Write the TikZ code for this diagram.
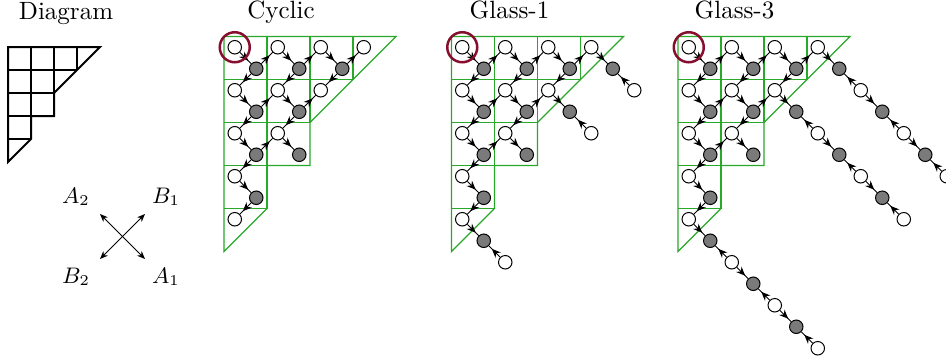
\documentclass[tikz,border=0pt]{standalone}
\usetikzlibrary{arrows.meta,decorations.markings,calc}
\definecolor{gridgreen}{rgb}{0.16,0.66,0.16}
\definecolor{ringred}{rgb}{0.53,0.06,0.18}
\tikzset{
  wn/.style={circle,draw=black,fill=white,inner sep=0pt,minimum size=5.4pt,line width=0.4pt},
  gn/.style={wn,fill=black!52},
  marr/.style={line width=0.4pt,postaction={decorate},
    decoration={markings,mark=at position 0.74 with {\arrow{Stealth[length=3.6pt,width=3pt]}}}},
  gridline/.style={draw=gridgreen,line width=0.45pt},
  diagline/.style={draw=black,line width=0.8pt},
  ringnode/.style={circle,draw=ringred,line width=1pt,inner sep=0pt,minimum size=12pt},
  ttl/.style={anchor=base,inner sep=0pt},
  crossarr/.style={line width=0.4pt,{Stealth[length=3.2pt,width=2.6pt]}-{Stealth[length=3.2pt,width=2.6pt]}},
  lbl/.style={inner sep=0pt,font=\small}
}
\newcommand{\gridshape}[1]{%
  \draw[#1] (0,0) -- (4,0) -- (2,2) -- (2,3) -- (1,3) -- (1,4) -- (0,5) -- cycle;
  \draw[#1] (1,0) -- (1,4) (2,0) -- (2,2) (3,0) -- (3,1)
            (0,1) -- (3,1) (0,2) -- (2,2) (0,3) -- (1,3) (0,4) -- (1,4);
}
\newcommand{\basenodes}[1]{%
  \foreach \r/\c in {1/1,1/2,1/3,1/4,2/1,2/2,2/3,3/1,3/2,4/1,5/1}
    \node[wn] (#1W\r\c) at (\c-0.75,\r-0.75) {};
  \foreach \r/\c in {1/1,1/2,1/3,2/1,2/2,3/1,3/2,4/1}
    \node[gn] (#1G\r\c) at (\c-0.25,\r-0.25) {};
  \foreach \r/\c in {1/1,1/2,1/3,2/1,2/2,3/1,3/2,4/1}
    \draw[marr] (#1W\r\c) -- (#1G\r\c);
  \foreach \a/\b in {11/12,12/13,13/14,21/22,22/23,31/32,11/21,12/22,13/23,21/31,22/32,31/41,41/51}
    \draw[marr] (#1G\a) -- (#1W\b);
  \node[ringnode] (#1R) at (#1W11) {};
}
\newcommand{\glassgrays}[1]{%
  \node[gn] (#1G14) at (3.75,0.75) {};
  \node[gn] (#1G23) at (2.75,1.75) {};
  \node[gn] (#1G51) at (0.75,4.75) {};
  \draw[marr] (#1W14) -- (#1G14);
  \draw[marr] (#1W23) -- (#1G23);
  \draw[marr] (#1W51) -- (#1G51);
}
\newcommand{\tailone}[2]{%
  \node[wn] (#2W1) at ($(#1)+(0.5,0.5)$) {};
  \draw[marr] (#2W1) -- (#1);
}
\newcommand{\tailthree}[2]{%
  \node[wn] (#2W1) at ($(#1)+(0.5,0.5)$) {};
  \node[gn] (#2G1) at ($(#1)+(1,1)$) {};
  \node[wn] (#2W2) at ($(#1)+(1.5,1.5)$) {};
  \node[gn] (#2G2) at ($(#1)+(2,2)$) {};
  \node[wn] (#2W3) at ($(#1)+(2.5,2.5)$) {};
  \draw[marr] (#2W1) -- (#1);
  \draw[marr] (#2W1) -- (#2G1);
  \draw[marr] (#2W2) -- (#2G1);
  \draw[marr] (#2W2) -- (#2G2);
  \draw[marr] (#2W3) -- (#2G2);
}
\begin{document}
\begin{tikzpicture}[x=0.4pt,y=-0.4pt]
  \useasboundingbox (0,0) rectangle (946,360);
  % titles
  \node[ttl] (tD) at (66,19) {Diagram};
  \node[ttl] (tC) at (281,18) {Cyclic};
  \node[ttl] (tG1) at (509.5,18) {Glass-1};
  \node[ttl] (tG3) at (734.5,18) {Glass-3};
  % small diagram
  \begin{scope}[shift={(8,47)},x=9.2pt,y=-9.2pt]
    \gridshape{diagline}
  \end{scope}
  % cross
  \coordinate (x1) at (100,214);
  \coordinate (x2) at (145,259);
  \coordinate (x3) at (145,214);
  \coordinate (x4) at (100,259);
  \draw[crossarr] (x1) -- (x2);
  \draw[crossarr] (x3) -- (x4);
  \node[lbl] (lA2) at (76,197) {$A_2$};
  \node[lbl] (lB1) at (166,197) {$B_1$};
  \node[lbl] (lB2) at (76,277) {$B_2$};
  \node[lbl] (lA1) at (166,277) {$A_1$};
  % Cyclic
  \begin{scope}[shift={(224,36.5)},x=17.2pt,y=-17.2pt]
    \gridshape{gridline}
    \basenodes{C}
  \end{scope}
  % Glass-1
  \begin{scope}[shift={(451.5,36.5)},x=17.2pt,y=-17.2pt]
    \gridshape{gridline}
    \basenodes{P}
    \glassgrays{P}
    \tailone{PG14}{Pa}
    \tailone{PG23}{Pb}
    \tailone{PG51}{Pc}
  \end{scope}
  % Glass-3
  \begin{scope}[shift={(678,36.5)},x=17.2pt,y=-17.2pt]
    \gridshape{gridline}
    \basenodes{Q}
    \glassgrays{Q}
    \tailthree{QG14}{Qa}
    \tailthree{QG23}{Qb}
    \tailthree{QG51}{Qc}
  \end{scope}
\end{tikzpicture}
\end{document}
